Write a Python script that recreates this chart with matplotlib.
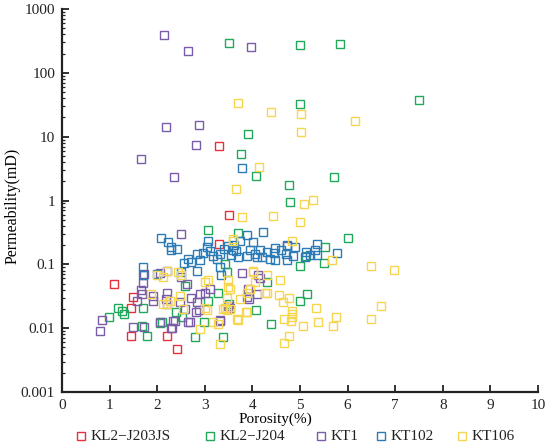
import matplotlib
matplotlib.use("Agg")
import matplotlib.pyplot as plt
from matplotlib.lines import Line2D
from matplotlib.ticker import LogLocator, NullFormatter, FixedLocator, FixedFormatter

series_names = ["KL2\u2212J203JS", "KL2\u2212J204", "KT1", "KT102", "KT106"]
series_colors = ["#E8303A", "#22A85A", "#7A5CA8", "#2C7BB6", "#F5D64E"]

red_x = [3.3, 3.5, 3.3, 1.1, 1.5, 1.45, 1.45, 2.2, 2.41]
red_y = [7.2, 0.6, 0.21, 0.05, 0.031, 0.021, 0.0075, 0.0075, 0.0048]

green_x = [3.5, 5.0, 5.83, 5.0, 7.5, 3.9, 3.76, 4.08, 4.76, 5.72, 4.8, 6.0, 5.53, 5.5, 5.0,
           5.13, 5.15, 5.0, 4.4, 4.08, 3.06, 3.28, 2.4, 2.53, 2.99, 2.79, 3.38, 1.18, 0.99,
           1.25, 1.3, 1.79, 1.7, 2.06, 3.07, 3.7, 4.3, 2.58, 3.42, 3.46, 3.5, 1.68, 2.1]
green_y = [290, 275, 285, 32, 38, 11, 5.3, 2.45, 1.75, 2.3, 0.94, 0.26, 0.19, 0.105, 0.095,
           0.135, 0.034, 0.027, 0.0117, 0.019, 0.027, 0.035, 0.018, 0.0148, 0.0127, 0.0072,
           0.0073, 0.021, 0.0152, 0.0184, 0.0167, 0.0075, 0.021, 0.012, 0.35, 0.31, 0.052,
           0.045, 0.10, 0.075, 0.024, 0.0107, 0.0125]

purple_x = [2.15, 2.64, 3.98, 2.18, 2.87, 2.81, 1.67, 2.36, 2.5, 4.73,
            1.72, 1.71, 1.67, 1.69, 1.92, 1.92, 1.57, 1.5, 1.72, 0.83, 0.80,
            2.06, 2.2, 2.2, 2.19, 2.2, 2.06, 2.33, 2.31, 2.51, 2.62, 2.48, 2.58, 2.69,
            2.72, 2.9, 2.84, 2.88, 3.11, 3.32, 3.52, 3.78, 3.91, 3.93, 4.12, 4.16, 4.1,
            3.0, 2.82, 2.65, 3.31, 3.49, 3.89, 2.37, 2.3]
purple_y = [395, 220, 255, 14, 15, 7.4, 4.4, 2.35, 0.30, 0.197,
            0.071, 0.051, 0.040, 0.034, 0.032, 0.027, 0.027, 0.0106, 0.0106, 0.0135, 0.0089,
            0.073, 0.078, 0.035, 0.029, 0.024, 0.0124, 0.013, 0.0099, 0.063, 0.05, 0.026,
            0.020, 0.0124, 0.030, 0.034, 0.026, 0.019, 0.041, 0.0135, 0.021, 0.073, 0.041,
            0.029, 0.067, 0.062, 0.034, 0.036, 0.018, 0.0124, 0.0129, 0.022, 0.031, 0.013,
            0.010]

blue_x = [3.79, 2.09, 2.23, 2.3, 2.29, 2.41, 1.71, 1.7, 2.51, 2.56, 2.72, 2.83, 2.96, 2.9,
          2.83, 3.04, 3.07, 3.18, 3.32, 3.32, 3.33, 3.49, 3.6, 3.62, 3.74, 3.88, 4.02, 3.88,
          4.16, 4.09, 4.23, 4.3, 4.38, 4.47, 4.45, 4.47, 4.72, 4.71, 4.72, 4.9, 4.86, 5.13,
          5.1, 5.35, 5.32, 5.35, 5.77, 3.1, 3.25, 3.55, 3.7, 3.95, 4.05, 2.65, 2.0, 3.4,
          3.65, 4.2, 4.6, 5.2]
blue_y = [3.2, 0.26, 0.22, 0.185, 0.165, 0.175, 0.092, 0.069, 0.075, 0.104, 0.108, 0.146,
          0.15, 0.115, 0.08, 0.185, 0.236, 0.137, 0.146, 0.09, 0.067, 0.197, 0.165, 0.2,
          0.236, 0.283, 0.222, 0.137, 0.165, 0.129, 0.318, 0.155, 0.122, 0.18, 0.15, 0.115,
          0.2, 0.146, 0.115, 0.185, 0.137, 0.155, 0.129, 0.21, 0.169, 0.142, 0.15, 0.16,
          0.12, 0.14, 0.13, 0.17, 0.145, 0.12, 0.07, 0.175, 0.16, 0.13, 0.17, 0.14]

yellow_x = [3.69, 4.4, 5.03, 6.16, 5.02, 4.14, 3.65, 3.79, 4.43, 5.28, 5.08, 5.0, 4.84,
            5.67, 6.5, 6.98, 4.58, 4.56, 4.65, 4.77, 4.84, 4.67, 5.33, 5.07, 5.38, 5.76,
            5.7, 6.5, 6.71, 4.77, 4.67, 4.83, 4.83, 4.82,
            2.51, 2.2, 1.99, 2.27, 2.13, 2.55, 2.9, 3.04, 3.0, 3.07, 3.28, 3.32, 3.39,
            3.46, 3.49, 3.53, 3.6, 3.68, 3.88, 3.74, 4.02, 4.05, 3.88, 4.3, 3.6, 2.44,
            3.0, 4.02, 3.95, 4.26, 3.49, 4.3, 2.48, 3.18, 3.47, 3.42, 3.53, 3.87, 3.7,
            2.13, 1.88, 2.2]
yellow_y = [34, 24, 22.5, 17.7, 11.8, 3.4, 1.5, 0.55, 0.58, 1.02, 0.89, 0.46, 0.236,
            0.117, 0.093, 0.082, 0.056, 0.033, 0.026, 0.030, 0.0167, 0.014, 0.021, 0.011,
            0.0124, 0.0148, 0.0107, 0.0137, 0.022, 0.0075, 0.0058, 0.015, 0.0185, 0.013,
            0.067, 0.08, 0.067, 0.027, 0.024, 0.02, 0.0097, 0.019, 0.021, 0.056, 0.0117,
            0.0057, 0.02, 0.019, 0.056, 0.041, 0.236, 0.014, 0.018, 0.029, 0.075, 0.052,
            0.036, 0.036, 0.25, 0.075, 0.052, 0.08, 0.041, 0.035, 0.044, 0.067, 0.032,
            0.0124, 0.03, 0.021, 0.02, 0.018, 0.0135, 0.063, 0.034, 0.024]

x_ticks = [0, 1, 2, 3, 4, 5, 6, 7, 8, 9, 10]
y_ticks = [0.001, 0.01, 0.1, 1, 10, 100, 1000]
y_tick_labels = ["0.001", "0.01", "0.1", "1", "10", "100", "1000"]

plt.rcParams['font.family'] = ['Liberation Serif', 'DejaVu Serif']
W, H = 550.0, 446.0

fig = plt.figure(figsize=(5.5, 4.46), dpi=100)
ax = fig.add_axes([62 / W, 1 - 392 / H, 476 / W, 383 / H])

data = [(red_x, red_y), (green_x, green_y), (purple_x, purple_y),
        (blue_x, blue_y), (yellow_x, yellow_y)]
for (xs, ys), name, col in zip(data, series_names, series_colors):
    ax.plot(xs, ys, linestyle='none', marker='s', markersize=6.3,
            markerfacecolor='none', markeredgecolor=col, markeredgewidth=1.0,
            label=name)

ax.set_yscale('log')
ax.set_xlim(0, 10)
ax.set_ylim(0.001, 1000)
ax.xaxis.set_major_locator(FixedLocator(x_ticks))
ax.set_xticklabels([str(t) for t in x_ticks])
ax.yaxis.set_major_locator(FixedLocator(y_ticks))
ax.yaxis.set_major_formatter(FixedFormatter(y_tick_labels))
ax.yaxis.set_minor_locator(LogLocator(base=10, subs=range(2, 10), numticks=20))
ax.yaxis.set_minor_formatter(NullFormatter())

for s in ['top', 'right']:
    ax.spines[s].set_visible(False)
for s in ['left', 'bottom']:
    ax.spines[s].set_linewidth(1.6)
    ax.spines[s].set_color('#222222')

ax.tick_params(axis='both', which='major', direction='in', length=5, width=1.3,
               labelsize=11, colors='#222222', pad=5)
ax.tick_params(axis='y', which='minor', direction='in', length=2.5, width=0.9,
               colors='#222222')

ax.set_xlabel('Porosity(%)', fontsize=11)
ax.xaxis.set_label_coords(0.5, 1 - 419 / H, transform=fig.transFigure)
ax.xaxis.label.set_verticalalignment('center')

ax.set_ylabel('Permeability(mD)', fontsize=11.5)
ax.yaxis.set_label_coords(13 / W, 1 - 206 / H, transform=fig.transFigure)
ax.yaxis.label.set_verticalalignment('center')

# legend row, placed manually to match the reference spacing
leg_marker_px = [81, 210, 321, 381, 462]
leg_y = 1 - 436 / H
for name, col, mx in zip(series_names, series_colors, leg_marker_px):
    fig.add_artist(Line2D([mx / W], [leg_y], transform=fig.transFigure, linestyle='none',
                          marker='s', markersize=5.2, markerfacecolor='none',
                          markeredgecolor=col, markeredgewidth=1.0))
    fig.text((mx + 10) / W, leg_y, name, fontsize=11, va='center', ha='left',
             color='#222222')

fig.savefig('out.png', dpi=100, facecolor='white')
